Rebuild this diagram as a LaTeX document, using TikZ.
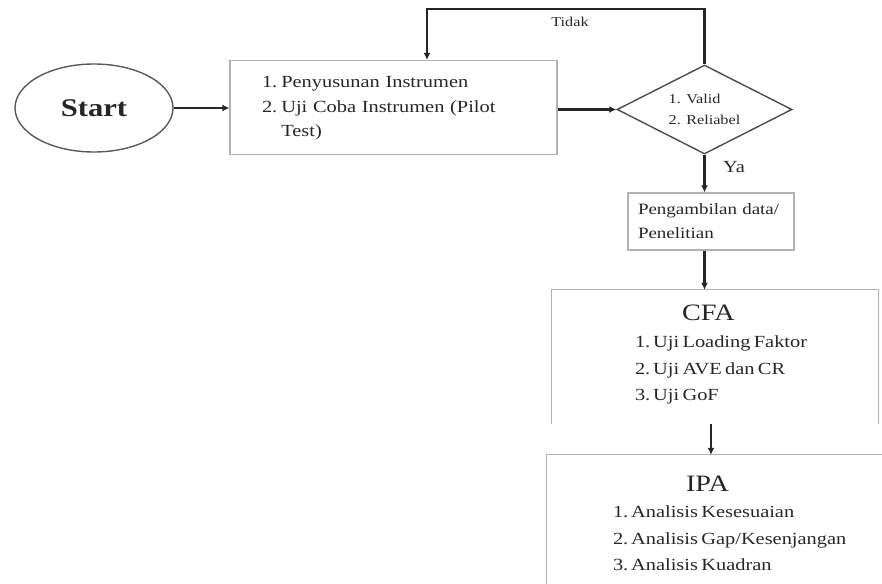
\documentclass[tikz,border=0pt]{standalone}
\usepackage{fontspec}
\setmainfont{Liberation Serif}[FakeStretch=1.2]
\usetikzlibrary{shapes.geometric,arrows.meta,positioning}

\newcommand\startfont{\fontsize{25.5}{30}\selectfont\bfseries}
\newcommand\bodyfont{\fontsize{17}{24.5}\selectfont}
\newcommand\listfont{\fontsize{17}{26.5}\selectfont}
\newcommand\datafont{\fontsize{15.8}{24}\selectfont}
\newcommand\checkfont{\fontsize{13.5}{21}\selectfont}
\newcommand\headfont{\fontsize{23.5}{26}\selectfont}

\tikzstyle{box}=[draw=black!30, line width=1.2pt, rectangle, inner sep=0pt, align=left]
\tikzstyle{frame}=[draw=black!30, line width=1.2pt]
\tikzstyle{flow}=[-{Latex[length=7pt,width=7pt]}, line width=2.2pt, black!85]

\begin{document}
\begin{tikzpicture}[x=1pt, y=-1pt, text=black!85]
\useasboundingbox (0,0) rectangle (882,583);
% Blocks
    \node[ellipse, draw=black!65, line width=1.4pt, minimum width=158pt, minimum height=88pt, font=\startfont] (start) at (94,108) {Start};
    \node[box, minimum width=327pt, minimum height=94pt, text width=263pt, font=\bodyfont] (prep) at (393.5,107.5)
        {\begin{tabular}{@{}l@{\hspace{4pt}}l@{}}1. & Penyusunan Instrumen\\2. & Uji Coba Instrumen (Pilot\\ & Test)\end{tabular}};
    \node[diamond, aspect=2, draw=black!70, line width=1.4pt, minimum width=175pt, minimum height=89pt, inner sep=0pt, align=left, font=\checkfont] (check) at (704.5,109.5)
        {1. Valid\\2. Reliabel};
    \node[box, minimum width=166pt, minimum height=57pt, text width=146pt, font=\datafont] (data) at (711,221.5)
        {Pengambilan data/\\Penelitian};
    \node[minimum width=326pt, minimum height=134pt, inner sep=0pt, text width=326pt, align=left] (cfa) at (715,357)
        {\headfont\hspace*{130pt}CFA\\[7pt]
         \listfont\hspace*{83pt}\begin{tabular}{@{}l@{}}1.\,Uji Loading Faktor\\2.\,Uji AVE dan CR\\3.\,Uji GoF\end{tabular}};
    \node[minimum width=335pt, minimum height=144pt, inner sep=0pt, text width=335pt, align=left] (ipa) at (714.5,527)
        {\headfont\hspace*{139pt}IPA\\[7pt]
         \listfont\hspace*{66pt}\begin{tabular}{@{}l@{}}1.\,Analisis Kesesuaian\\2.\,Analisis Gap/Kesenjangan\\3.\,Analisis Kuadran\end{tabular}};
% Open frames
    \draw[frame] (cfa.south west) |- (cfa.north east) -- (cfa.south east);
    \draw[frame] (ipa.south west) |- (ipa.north east);
% Labels
    \node[font=\checkfont] (tidak) at (570,22) {Tidak};
    \node[font=\fontsize{17}{18}\selectfont] (ya) at (734,167) {Ya};
% Arrows
    \coordinate (back) at (427,9);
    \draw[flow] (start.east) -- (start.east -| prep.west);
    \draw[flow] (prep.east |- check.west) -- (check.west);
    \draw[flow] (check.north) |- (back) -- (back |- prep.north);
    \draw[flow] (check.south) -- (check.south |- data.north);
    \draw[flow] (check.south |- data.south) -- (check.south |- cfa.north);
    \draw[flow] (data.south |- cfa.south) -- (data.south |- ipa.north);
\end{tikzpicture}
\end{document}
